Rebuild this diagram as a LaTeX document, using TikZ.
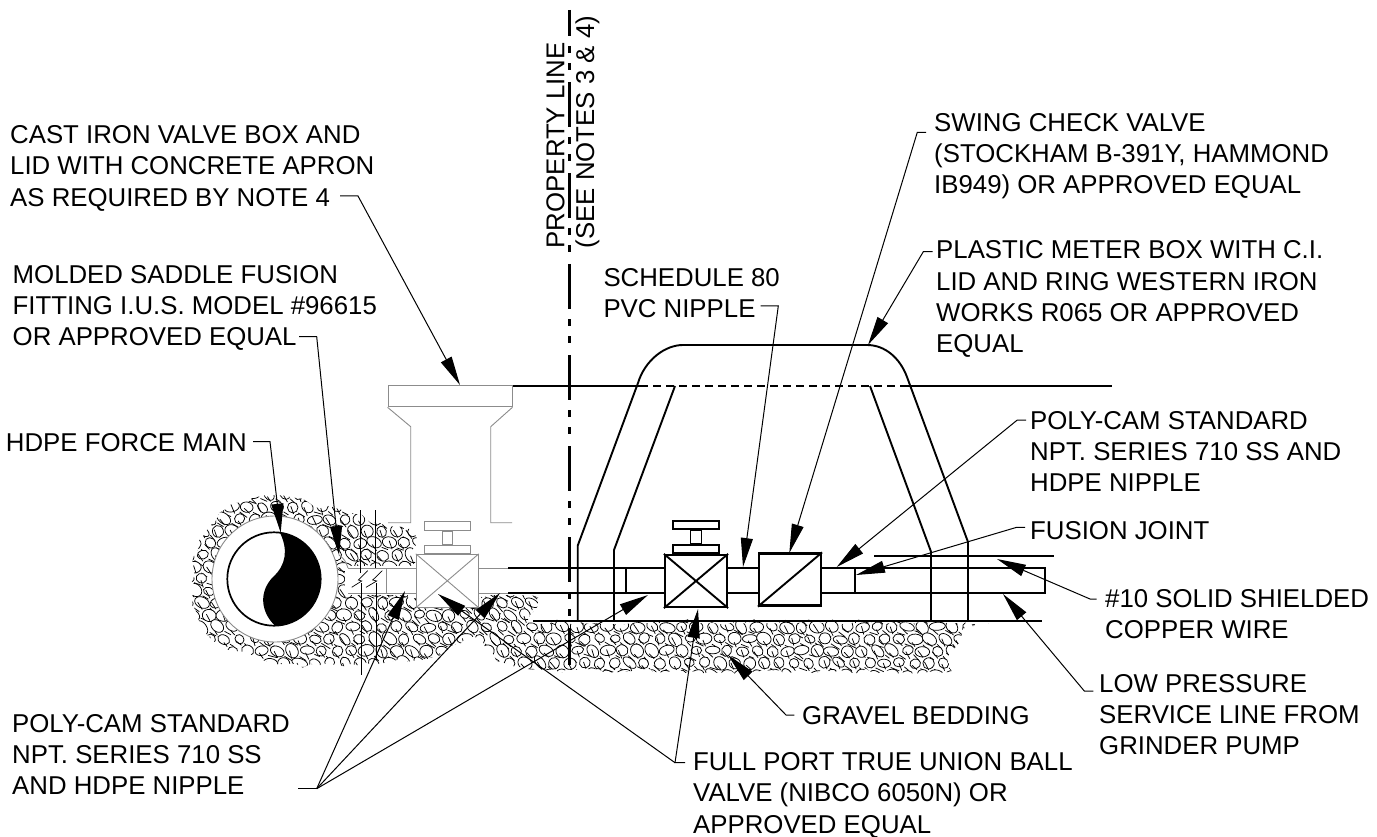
\documentclass[tikz,border=0pt]{standalone}
\usepackage{fontspec}
\setmainfont{Liberation Sans}
\usetikzlibrary{arrows.meta,positioning,decorations.pathmorphing}

\begin{document}
\begin{tikzpicture}[
    x=1pt, y=-1pt,
    note/.style={anchor=north west, inner sep=0pt, align=left, font=\fontsize{25.8}{31.3}\selectfont},
    upnote/.style={anchor=base west, inner sep=0pt, rotate=90, font=\fontsize{25.8}{31.3}\selectfont},
    leader/.style={draw, line width=1pt, -{Triangle[length=29pt, width=12pt]}},
    pipeline/.style={draw, line width=1.9pt},
    greyline/.style={draw, line width=0.9pt, black!45},
    valvebox/.style={rectangle, draw, fill=white, line width=2.2pt, inner sep=0pt, minimum width=62pt, minimum height=52pt},
    greybox/.style={rectangle, draw=black!45, fill=white, line width=0.9pt, inner sep=0pt},
    handlebox/.style={rectangle, draw, fill=white, line width=1.7pt, inner sep=0pt},
    stone/.style={draw, fill=white, line width=0.75pt}
]
    \useasboundingbox (0,0) rectangle (1377,837);
    \fill[white] (0,0) rectangle (1377,837);

    % Gravel bedding
    \begin{scope}
        \path[clip, decorate, decoration={random steps, segment length=8pt, amplitude=3pt}] plot[smooth cycle, tension=0.45] coordinates {(192,582) (200,540) (225,510) (260,497) (296,498) (313,505) (347,512) (375,522) (412,530) (413,566) (414,596) (533,596) (533,620) (640,622) (963,622) (963,630) (950,653) (937,670) (760,671) (547,670) (505,662) (473,638) (440,655) (420,660) (350,664) (280,664) (220,643) (196,610)};
        \pgfmathsetseed{11}
        \foreach \y [count=\i] in {494,506,...,674} {
            \foreach \x in {186,201,...,975} {
                \pgfmathsetmacro\px{\x+7.5*mod(\i,2)+2*rnd}
                \pgfmathsetmacro\py{\y+2*rnd}
                \pgfmathsetmacro\rx{4.8+3.4*rnd}
                \pgfmathsetmacro\ry{3.8+2.4*rnd}
                \pgfmathsetmacro\ang{-60+80*rnd}
                \pgfmathsetmacro\sx{4+5*rnd}
                \pgfmathsetmacro\sy{2+4*rnd}
                \ifdim\px pt>425pt\ifdim\py pt<588pt\else
                    \draw[line width=0.75pt] (\px+\rx,\py+\ry) -- ++(\sx,\sy) (\px-\rx,\py-\ry) -- ++(-\sy,-\sx);
                    \path[stone, rotate around={\ang:(\px,\py)}] (\px,\py) ellipse [x radius=\rx, y radius=\ry];
                \fi\else
                    \draw[line width=0.75pt] (\px+\rx,\py+\ry) -- ++(\sx,\sy) (\px-\rx,\py-\ry) -- ++(-\sy,-\sx);
                    \path[stone, rotate around={\ang:(\px,\py)}] (\px,\py) ellipse [x radius=\rx, y radius=\ry];
                \fi
            }
        }
    \end{scope}

    % Force main
    \node[circle, draw=black!45, fill=white, line width=0.9pt, inner sep=0pt, minimum size=126pt] (casing) at (275,579) {};
    \fill[black] (280,532.7) arc[start angle=-82.6, end angle=88.8, radius=46.7] .. controls (259,610) and (260,590) .. (273.3,576.7) .. controls (286,565) and (288.3,550) .. (280,532.7);
    \node[circle, draw, line width=1.7pt, inner sep=0pt, minimum size=93.4pt] (forcemain) at (274,579) {};

    % Old service stub, saddle and break
    \fill[white] (345,566) rectangle (532,595);
    \coordinate (saddletop) at (339,555);
    \coordinate (saddleend) at (348,568);
    \draw[greyline] (saddletop) .. controls (345,560) .. (saddleend);
    \coordinate (stubleft) at (348,568);
    \coordinate (stubright) at (508,568);
    \coordinate (stubbotl) at (348,593);
    \coordinate (stubbotr) at (508,593);
    \draw[greyline] (stubleft) -- (stubright);
    \draw[greyline] (stubbotl) -- (stubbotr);
    \draw[greyline] (386,568) -- (386,593);
    \draw[line width=0.7pt] (360,510) -- (360,573) (361.5,583) -- (361.5,675) (375,510) -- (375,568) (376,583) -- (376,660);
    \draw[line width=0.7pt] (367.7,570.7) -- (358.3,580) -- (361.7,581) -- (351.7,587.3) (382.3,570.7) -- (372.7,580) -- (376.7,581) -- (366,587.3);

    % Valve box
    \node[greybox, minimum width=124pt, minimum height=21.7pt] (lid) at (450,396) {};
    \draw[greyline] (lid.south west) -- (410.7,426.7) -- (410.7,522.7) -- (388,522.7);
    \draw[greyline] (lid.south east) -- (490.7,426.7) -- (490.7,522.7) -- (512,522.7);

    % Buried valve
    \node[greybox, minimum width=62pt, minimum height=53pt] (oldvalve) at (447.3,580.8) {};
    \draw[greyline] (oldvalve.south west) -- (oldvalve.north east);
    \draw[greyline] (oldvalve.north west) -- (oldvalve.south east);
    \node[greybox, minimum width=46pt, minimum height=8.3pt, above=0pt of oldvalve] (oldbase) {};
    \node[greybox, minimum width=10.6pt, minimum height=13pt, above=0pt of oldbase] (oldstem) {};
    \node[greybox, minimum width=46pt, minimum height=8.4pt, above=0pt of oldstem] (oldwheel) {};

    % Grade and meter box
    \coordinate (gradeleft) at (513,386);
    \coordinate (gradein) at (640,386);
    \coordinate (gradeout) at (906,386);
    \coordinate (graderight) at (1112,386);
    \draw[pipeline] (gradeleft) -- (gradein);
    \draw[pipeline] (gradeout) -- (graderight);
    \draw[line width=1.2pt, dash pattern=on 8pt off 5pt] (gradein) -- (gradeout);
    \draw[pipeline] (577.7,621) -- (577.7,545.7) -- (638,383) .. controls (645,360) and (665,345) .. (683,345) -- (867,345) .. controls (885,345) and (900,358) .. (907,377) -- (968,542) -- (968,621);
    \draw[pipeline] (614,621) -- (614,550) -- (675,386);
    \draw[pipeline] (870,386) -- (931,551.7) -- (931,621);

    % Service line
    \coordinate (pipetl) at (508,568);
    \coordinate (pipebl) at (508,593);
    \coordinate (pipetr) at (1045,568);
    \coordinate (pipebr) at (1045,593);
    \draw[pipeline] (pipetl) -- (pipetr) -- (pipebr) -- (pipebl);
    \draw[pipeline] (626,568) -- (626,593);
    \draw[pipeline] (855,568) -- (855,593);
    \draw[pipeline] (874,556) -- (1054,556);
    \draw[pipeline] (533,621) -- (1042,621);

    % Valves
    \node[valvebox] (ballvalve) at (696,581) {};
    \draw[pipeline] (ballvalve.south west) -- (ballvalve.north east);
    \draw[pipeline] (ballvalve.north west) -- (ballvalve.south east);
    \node[handlebox, minimum width=46pt, minimum height=8pt, above=0pt of ballvalve] (ballbase) {};
    \node[handlebox, minimum width=11pt, minimum height=13pt, above=0pt of ballbase] (ballstem) {};
    \node[handlebox, minimum width=46pt, minimum height=8pt, above=0pt of ballstem] (ballwheel) {};
    \node[valvebox] (checkvalve) at (790,579.5) {};
    \draw[pipeline] (checkvalve.south west) -- (checkvalve.north east);

    % Property line
    \coordinate (propertytop) at (569.5,10);
    \coordinate (propertyend) at (569.5,665);
    \draw[line width=2.4pt, dash pattern=on 45pt off 10pt on 7pt off 10pt on 7pt off 12pt, dash phase=19pt] (propertytop) -- (propertyend);
    \node[upnote] (propertylbl) at (564.3,248.5) {PROPERTY LINE};
    \node[upnote] (seenoteslbl) at (594,248.5) {(SEE NOTES 3 \& 4)};

    % Labels
    \node[note] (castlbl) at (10,125.2) {CAST IRON VALVE BOX AND\\LID WITH CONCRETE APRON\\AS REQUIRED BY NOTE 4};
    \node[note] (moldedlbl) at (12.5,264.9) {MOLDED SADDLE FUSION\\FITTING I.U.S. MODEL \#96615\\OR APPROVED EQUAL};
    \node[note, anchor=north east] (mainlbl) at (247,433.2) {HDPE FORCE MAIN};
    \node[note] (schedulelbl) at (603.3,267.9) {SCHEDULE 80\\PVC NIPPLE};
    \node[note] (swinglbl) at (934,112.9) {SWING CHECK VALVE\\(STOCKHAM B-391Y, HAMMOND\\IB949) OR APPROVED EQUAL};
    \node[note] (plasticlbl) at (936,240.5) {PLASTIC METER BOX WITH C.I.\\LID AND RING WESTERN IRON\\WORKS R065 OR APPROVED\\EQUAL};
    \node[note] (polyrightlbl) at (1030,410.9) {POLY-CAM STANDARD\\NPT. SERIES 710 SS AND\\HDPE NIPPLE};
    \node[note] (fusionlbl) at (1030,521.5) {FUSION JOINT};
    \node[note] (wirelbl) at (1105,588.9) {\#10 SOLID SHIELDED\\COPPER WIRE};
    \node[note] (lowlbl) at (1099,673.9) {LOW PRESSURE\\SERVICE LINE FROM\\GRINDER PUMP};
    \node[note] (gravellbl) at (802,706.5) {GRAVEL BEDDING};
    \node[note] (fullportlbl) at (693,752.2) {FULL PORT TRUE UNION BALL\\VALVE (NIBCO 6050N) OR\\APPROVED EQUAL};
    \node[note] (polyleftlbl) at (12,713.9) {POLY-CAM STANDARD\\NPT. SERIES 710 SS\\AND HDPE NIPPLE};

    % Leaders
    \coordinate (castfoot) at (340,196); \coordinate (castbend) at (358,196); \coordinate (casttip) at (460,385);
    \draw[leader] (castfoot) -- (castbend) -- (casttip);
    \coordinate (moldedfoot) at (299,336.7); \coordinate (moldedbend) at (316.7,336.7); \coordinate (moldedtip) at (339,555);
    \draw[leader] (moldedfoot) -- (moldedbend) -- (moldedtip);
    \coordinate (mainfoot) at (253,441.7); \coordinate (mainbend) at (270,441.7); \coordinate (maintip) at (280.7,532.7);
    \draw[leader] (mainfoot) -- (mainbend) -- (maintip);
    \coordinate (schedulefoot) at (760.7,306); \coordinate (schedulebend) at (778.3,306); \coordinate (scheduletip) at (743,567);
    \draw[leader] (schedulefoot) -- (schedulebend) -- (scheduletip);
    \coordinate (swingfoot) at (926,132.3); \coordinate (swingbend) at (917.3,132.3); \coordinate (swingtip) at (789.3,553);
    \draw[leader] (swingfoot) -- (swingbend) -- (swingtip);
    \coordinate (plasticfoot) at (932.7,251.7); \coordinate (plasticbend) at (923.3,251.7); \coordinate (plastictip) at (868,345);
    \draw[leader] (plasticfoot) -- (plasticbend) -- (plastictip);
    \coordinate (polyrightfoot) at (1026,420); \coordinate (polyrightbend) at (1017.3,420); \coordinate (polyrighttip) at (836.7,567);
    \draw[leader] (polyrightfoot) -- (polyrightbend) -- (polyrighttip);
    \coordinate (fusionfoot) at (1025,527.3); \coordinate (fusionbend) at (1016.7,527.3); \coordinate (fusiontip) at (856,575);
    \draw[leader] (fusionfoot) -- (fusionbend) -- (fusiontip);
    \coordinate (wirefoot) at (1096.7,599); \coordinate (wirebend) at (1090,599); \coordinate (wiretip) at (997,559);
    \draw[leader] (wirefoot) -- (wirebend) -- (wiretip);
    \coordinate (lowfoot) at (1093.3,691); \coordinate (lowbend) at (1084.3,691); \coordinate (lowtip) at (1003,594);
    \draw[leader] (lowfoot) -- (lowbend) -- (lowtip);
    \coordinate (gravelfoot) at (794.3,715); \coordinate (gravelbend) at (786,715); \coordinate (graveltip) at (728,655);
    \draw[leader] (gravelfoot) -- (gravelbend) -- (graveltip);
    \coordinate (fullfoot) at (685,762.7); \coordinate (fullbend) at (675,762.7); \coordinate (fulltip) at (698,609); \coordinate (oldtip) at (438,594);
    \draw[leader] (fullfoot) -- (fullbend) -- (fulltip);
    \draw[leader] (fullbend) -- (oldtip);
    \coordinate (polyfoot) at (298.3,788.7); \coordinate (polybend) at (316.7,788.7); \coordinate (polytipa) at (405,591); \coordinate (polytipb) at (500,593); \coordinate (polytipc) at (648,595);
    \draw[line width=1.4pt] (polyfoot) -- (polybend);
    \draw[leader] (polybend) -- (polytipa);
    \draw[leader] (polybend) -- (polytipb);
    \draw[leader] (polybend) -- (polytipc);
\end{tikzpicture}
\end{document}
